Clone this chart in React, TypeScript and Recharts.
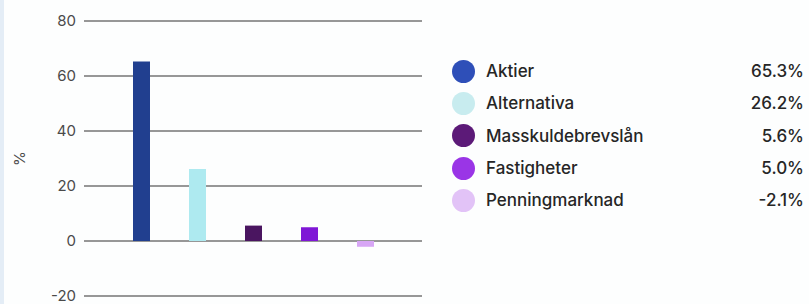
import React from 'react';
import { BarChart, Bar, XAxis, YAxis, CartesianGrid, Cell, Label } from 'recharts';

const categories = ['Aktier', 'Alternativa', 'Masskuldebrevslån', 'Fastigheter', 'Penningmarknad'];
const values = [65.3, 26.2, 5.6, 5.0, -2.1];
const valueLabels = ['65.3%', '26.2%', '5.6%', '5.0%', '-2.1%'];
const yTicks = [-20, 0, 20, 40, 60, 80];

const barColors = ['#213f8f', '#aeeaf0', '#4a1560', '#7f17d6', '#d7a6f5'];
const legendColors = ['#2e4fb8', '#c8ecef', '#5c1a78', '#9a35e6', '#e2c3f7'];

const data = categories.map((name, i) => ({ name, value: values[i], label: valueLabels[i] }));

const FONT = 'Inter, "Noto Sans", sans-serif';

const LegendContent = () => (
  <div style={{ fontFamily: FONT, color: '#262626', fontSize: 17, fontWeight: 500 }}>
    {data.map((d, i) => (
      <div key={d.name} style={{ display: 'flex', alignItems: 'center', height: 32.3 }}>
        <span
          style={{
            width: 23,
            height: 23,
            borderRadius: '50%',
            background: legendColors[i],
            display: 'inline-block',
            marginRight: 11,
            flex: 'none',
          }}
        />
        <span style={{ flex: 1 }}>{d.name}</span>
        <span>{d.label}</span>
      </div>
    ))}
  </div>
);

export default function App() {
  return (
    <div style={{ position: 'fixed', left: 0, top: 0, width: 809, height: 304, background: '#fdfefe' }}>
      <div style={{ position: 'absolute', left: 0, top: 0, width: 4, height: 304, background: '#e4edf6' }} />
      <BarChart
        width={809}
        height={304}
        data={data}
        margin={{ top: 21, right: 387, bottom: 8, left: 0 }}
      >
        <CartesianGrid horizontal vertical={false} stroke="#747474" strokeWidth={1.3} />
        <XAxis dataKey="name" hide padding={{ left: 29, right: 29 }} />
        <YAxis
          width={84}
          domain={[-20, 80]}
          ticks={yTicks}
          axisLine={false}
          tickLine={false}
          tick={{ fill: '#4a4a4a', fontSize: 15, fontFamily: FONT }}
          interval={0}
        >
          <Label
            value="%"
            angle={-90}
            position="insideLeft"
            offset={20}
            style={{ textAnchor: 'middle', fill: '#4a4a4a', fontSize: 15, fontFamily: FONT }}
          />
        </YAxis>
        <Bar dataKey="value" barSize={17} isAnimationActive={false}>
          {data.map((d, i) => (
            <Cell key={d.name} fill={barColors[i]} />
          ))}
        </Bar>
      </BarChart>
      <div style={{ position: 'absolute', left: 452, top: 55, width: 352 }}>
        <LegendContent />
      </div>
    </div>
  );
}
